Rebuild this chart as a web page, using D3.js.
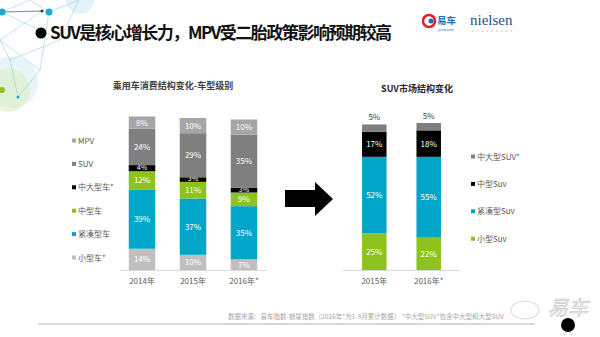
<!DOCTYPE html>
<html><head><meta charset="utf-8">
<script src="https://cdn.jsdelivr.net/npm/d3@7"></script>
<style>body{margin:0;background:#fff;}svg{display:block;font-family:"Noto Sans CJK SC","Noto Sans",sans-serif;}</style>
</head><body>
<svg id="c" width="600" height="337"></svg>
<script>
// ---- data ----
const leftYears = ["2014年","2015年","2016年*"];
const leftSeries = ["小型车*","紧凑型车","中型车","中大型车*","SUV","MPV"];
const leftValues = {
  "小型车*":   [14,10,7],
  "紧凑型车":  [39,37,35],
  "中型车":    [12,11,9],
  "中大型车*": [4,3,3],
  "SUV":       [24,29,35],
  "MPV":       [8,10,10]
};
const leftColors = ["#bfbfbf","#00a6c9","#8dc21f","#000000","#7f7f7f","#a6a6a6"];

const rightYears = ["2015年","2016年*"];
const rightSeries = ["小型Suv","紧凑型Suv","中型Suv","中大型SUV*"];
const rightValues = {
  "小型Suv":   [25,22],
  "紧凑型Suv": [52,55],
  "中型Suv":   [17,18],
  "中大型SUV*":[5,5]
};
const rightColors = ["#8dc21f","#00a6c9","#000000","#7f7f7f"];

const svg = d3.select("#c");

// ---- background decoration (top-left network) ----
const deco = svg.append("g");
deco.append("circle").attr("cx",12).attr("cy",82).attr("r",26).attr("fill","#cfe9f2").attr("opacity",0.5);
deco.append("circle").attr("cx",8).attr("cy",90).attr("r",22).attr("fill","#dcefc4").attr("opacity",0.6);
deco.append("circle").attr("cx",80).attr("cy",0).attr("r",14).attr("fill","#e4f3f8");
const nodes = [[2,12],[42,11],[49,12],[79,0],[30,0],[0,40],[10,60],[18,97],[2,90],[40,70],[60,40]];
const links = [[0,1],[1,2],[2,3],[0,4],[1,5],[5,6],[6,7],[2,9],[9,7],[0,10],[10,6],[4,2],[3,10],[5,9]];
links.forEach(l=>deco.append("line").attr("x1",nodes[l[0]][0]).attr("y1",nodes[l[0]][1])
  .attr("x2",nodes[l[1]][0]).attr("y2",nodes[l[1]][1]).attr("stroke","#8ed0e6").attr("stroke-width",0.7).attr("opacity",0.8));
deco.append("line").attr("x1",2).attr("y1",12).attr("x2",42).attr("y2",11).attr("stroke","#777").attr("stroke-width",0.8);
deco.append("circle").attr("cx",2).attr("cy",12).attr("r",3.5).attr("fill","#1fa8d2");
deco.append("circle").attr("cx",49).attr("cy",12).attr("r",3.5).attr("fill","#1fa8d2");
deco.append("circle").attr("cx",42).attr("cy",11).attr("r",1.5).attr("fill","#333");
deco.append("circle").attr("cx",2).attr("cy",90).attr("r",3).attr("fill","#8dc21f");
deco.append("circle").attr("cx",18).attr("cy",97).attr("r",1.5).attr("fill","#1fa8d2");

// ---- header ----
svg.append("circle").attr("cx",41).attr("cy",33).attr("r",5.5).attr("fill","#000");
svg.append("text").attr("x",50).attr("y",39).attr("font-size",17).attr("font-weight","bold")
  .attr("fill","#111").attr("textLength",342).text("SUV是核心增长力，MPV受二胎政策影响预期较高");
// logos
svg.append("circle").attr("cx",429).attr("cy",21).attr("r",6).attr("fill","none").attr("stroke","#e21f26").attr("stroke-width",2.5);
svg.append("circle").attr("cx",431).attr("cy",21).attr("r",2.5).attr("fill","#1a6fb5");
svg.append("text").attr("x",437).attr("y",24).attr("font-size",9.5).attr("font-weight","bold").attr("fill","#1a6fb5").text("易车");
svg.append("text").attr("x",438).attr("y",31).attr("font-size",3.5).attr("fill","#1a6fb5").text("ycne.com");
svg.append("text").attr("x",470).attr("y",25).attr("font-size",15).attr("font-family","Liberation Serif, serif").attr("fill","#1f4e8c").text("nielsen");
for(let i=0;i<9;i++) svg.append("circle").attr("cx",473+i*4.8).attr("cy",31).attr("r",0.6).attr("fill","#999");

// ---- left chart ----
svg.append("text").attr("x",173).attr("y",89).attr("text-anchor","middle").attr("font-size",9)
  .attr("font-weight","bold").attr("fill","#404040").text("乘用车消费结构变化-车型级别");

const xL = d3.scaleBand().domain(leftYears).range([116,270]).paddingInner(0.48).paddingOuter(0.25);
const yL = d3.scaleLinear().domain([0,100]).range([270,118]);
const leftData = leftYears.map((yr,i)=>{const o={year:yr};leftSeries.forEach(s=>o[s]=leftValues[s][i]);return o;});
const stackL = d3.stack().keys(leftSeries)(leftData);
const gL = svg.append("g");
stackL.forEach((layer,li)=>{
  layer.forEach(d=>{
    const v = d[1]-d[0];
    gL.append("rect").attr("x",xL(d.data.year)).attr("width",xL.bandwidth())
      .attr("y",yL(d[1])).attr("height",yL(d[0])-yL(d[1])).attr("fill",leftColors[li]);
    const small = v < 5;
    gL.append("text").attr("x",xL(d.data.year)+xL.bandwidth()/2)
      .attr("y",(yL(d[0])+yL(d[1]))/2+(small?1.5:3))
      .attr("text-anchor","middle").attr("font-size",small?7:8).attr("fill","#fff").text(v+"%");
  });
});
const axL = svg.append("g").attr("transform","translate(0,270)").call(d3.axisBottom(xL).tickSize(0).tickPadding(8));
axL.select(".domain").attr("stroke","#d9d9d9").attr("d","M120,0.5H267");
axL.selectAll("text").attr("font-size",8).attr("fill","#595959").attr("font-family","Noto Sans CJK SC");

// left legend
const legL = svg.append("g");
leftSeries.slice().reverse().forEach((s,i)=>{
  const y = 141 + i*23.4;
  legL.append("rect").attr("x",72).attr("y",y-2.5).attr("width",4).attr("height",4).attr("fill",leftColors[leftSeries.length-1-i]);
  legL.append("text").attr("x",78).attr("y",y+2.5).attr("font-size",8).attr("fill","#595959").text(s);
});

// ---- arrow ----
svg.append("path").attr("d","M285,190H315V182L333,199L315,216V207H285Z").attr("fill","#000");

// ---- right chart ----
svg.append("text").attr("x",417).attr("y",92).attr("text-anchor","middle").attr("font-size",9)
  .attr("font-weight","bold").attr("fill","#262626").text("SUV市场结构变化");

const xR = d3.scaleBand().domain(rightYears).range([343,460]).paddingInner(0.55).paddingOuter(0.35);
const yR = d3.scaleLinear().domain([0,100]).range([270,123]);
const rightData = rightYears.map((yr,i)=>{const o={year:yr};rightSeries.forEach(s=>o[s]=rightValues[s][i]);return o;});
const stackR = d3.stack().keys(rightSeries)(rightData);
const gR = svg.append("g");
stackR.forEach((layer,li)=>{
  layer.forEach(d=>{
    gR.append("rect").attr("x",xR(d.data.year)).attr("width",xR.bandwidth())
      .attr("y",yR(d[1])).attr("height",yR(d[0])-yR(d[1])).attr("fill",rightColors[li]);
    const v = d[1]-d[0];
    const top = li===rightSeries.length-1;
    gR.append("text").attr("x",xR(d.data.year)+xR.bandwidth()/2)
      .attr("y", top ? yR(d[1])-4 : (yR(d[0])+yR(d[1]))/2+3)
      .attr("text-anchor","middle").attr("font-size",8)
      .attr("fill", top ? "#404040" : "#fff").text(v+"%");
  });
});
const axR = svg.append("g").attr("transform","translate(0,270)").call(d3.axisBottom(xR).tickSize(0).tickPadding(8));
axR.select(".domain").attr("stroke","#d9d9d9").attr("d","M343,0.5H460");
axR.selectAll("text").attr("font-size",8).attr("fill","#595959").attr("font-family","Noto Sans CJK SC");

const legR = svg.append("g");
rightSeries.slice().reverse().forEach((s,i)=>{
  const y = 157 + i*27.4;
  legR.append("rect").attr("x",471).attr("y",y-2.5).attr("width",4).attr("height",4).attr("fill",rightColors[rightSeries.length-1-i]);
  legR.append("text").attr("x",477).attr("y",y+2.5).attr("font-size",8).attr("fill","#595959").text(s);
});

// ---- footer ----
svg.append("text").attr("x",228).attr("y",319).attr("font-size",6.5).attr("fill","#a6a6a6")
  .text("数据来源：易车指数-销量指数（2016年*为1-9月累计数据）   *中大型SUV*包含中大型和大型SUV");
svg.append("line").attr("x1",38).attr("x2",535).attr("y1",324).attr("y2",324).attr("stroke","#d9d9d9").attr("stroke-width",2);
// watermark
svg.append("text").attr("x",548).attr("y",315).attr("font-size",20).attr("font-style","italic").attr("fill","none")
  .attr("stroke","#ccc").attr("stroke-width",0.8).text("易车");
svg.append("ellipse").attr("cx",525).attr("cy",310).attr("rx",14).attr("ry",9).attr("fill","none").attr("stroke","#ddd").attr("stroke-width",1.2);
svg.append("circle").attr("cx",568).attr("cy",325).attr("r",7).attr("fill","#000");
</script>
</body></html>
